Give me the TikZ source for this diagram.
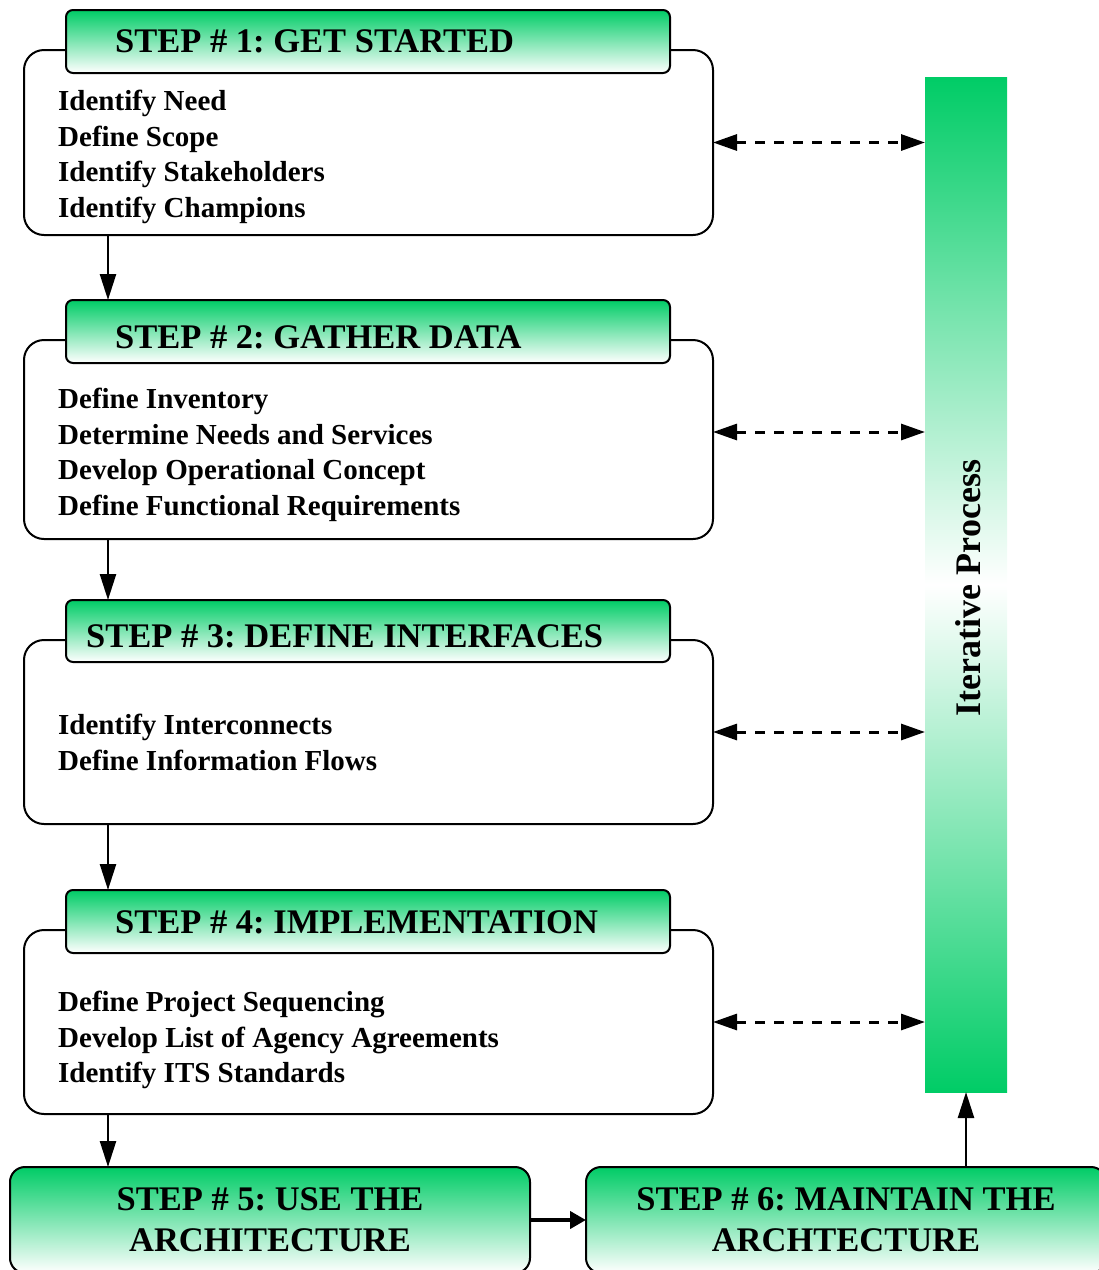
\documentclass[tikz,border=0pt]{standalone}
\usepackage{fontspec}
\setmainfont{Liberation Serif}
\usetikzlibrary{arrows.meta}
\definecolor{grn}{RGB}{0,204,102}
\frenchspacing
\tikzset{
  body/.style={draw, line width=2pt, rounded corners=20pt, fill=white, inner sep=0pt, outer sep=0pt},
  head/.style={draw, line width=2pt, rounded corners=7pt, top color=grn, bottom color=white, inner sep=0pt, outer sep=0pt},
  title/.style={font=\fontsize{34.5}{41}\selectfont\bfseries, inner sep=0pt, anchor=west},
  items/.style={font=\fontsize{29}{35.6}\selectfont\bfseries, align=left, inner sep=0pt, anchor=north west},
  flow/.style={line width=2.5pt, -{Triangle[length=26pt,width=16pt]}},
  link/.style={line width=3pt, dash pattern=on 10pt off 9pt, {Triangle[length=24pt,width=16pt]}-{Triangle[length=24pt,width=16pt]}},
  final/.style={draw, line width=2pt, rounded corners=15pt, top color=grn, bottom color=white, inner sep=0pt, outer sep=0pt, minimum width=520pt, minimum height=106pt, align=center, font=\fontsize{34.5}{41}\selectfont\bfseries},
}
\begin{document}
\begin{tikzpicture}[x=1pt,y=-1pt]
\useasboundingbox (0,0) rectangle (1099,1270);
% iterative bar
\node[inner sep=0pt, outer sep=0pt, minimum width=82pt, minimum height=1015pt, top color=grn, bottom color=grn, middle color=white] (bar) at (966,584.5) {};
\node[rotate=90, font=\fontsize{36}{36}\selectfont\bfseries, inner sep=0pt] (bt) at (968,588) {Iterative Process};
% step 1
\node[body, minimum width=689pt, minimum height=185pt] (b1) at (368.5,142.5) {};
\node[head, minimum width=604pt, minimum height=63pt] (h1) at (368,41.5) {};
\node[title] (t1) at (115,41) {STEP \# 1: GET STARTED};
\node[items] (i1) at (58,90) {Identify Need\\Define Scope\\Identify Stakeholders\\Identify Champions};
% step 2
\node[body, minimum width=689pt, minimum height=199pt] (b2) at (368.5,439.5) {};
\node[head, minimum width=604pt, minimum height=63pt] (h2) at (368,331.5) {};
\node[title] (t2) at (115,337) {STEP \# 2: GATHER DATA};
\node[items] (i2) at (58,388) {Define Inventory\\Determine Needs and Services\\Develop Operational Concept\\Define Functional Requirements};
% step 3
\node[body, minimum width=689pt, minimum height=184pt] (b3) at (368.5,732) {};
\node[head, minimum width=604pt, minimum height=62pt] (h3) at (368,631) {};
\node[title] (t3) at (86,636) {STEP \# 3: DEFINE INTERFACES};
\node[items] (i3) at (58,714) {Identify Interconnects\\Define Information Flows};
% step 4
\node[body, minimum width=689pt, minimum height=184pt] (b4) at (368.5,1022) {};
\node[head, minimum width=604pt, minimum height=63pt] (h4) at (368,921.5) {};
\node[title] (t4) at (115,922) {STEP \# 4: IMPLEMENTATION};
\node[items] (i4) at (58,991) {Define Project Sequencing\\Develop List of Agency Agreements\\Identify ITS Standards};
% steps 5 and 6
\node[final] (b5) at (270,1220) {STEP \# 5: USE THE\\ARCHITECTURE};
\node[final] (b6) at (846,1220) {STEP \# 6: MAINTAIN THE\\ARCHTECTURE};
% connectors
\coordinate (ax) at (108,0);
\draw[flow] (b1.south -| ax) -- (h2.north -| ax);
\draw[flow] (b2.south -| ax) -- (h3.north -| ax);
\draw[flow] (b3.south -| ax) -- (h4.north -| ax);
\draw[flow] (b4.south -| ax) -- (b5.north -| ax);
\draw[link] (b1.east) -- (b1.east -| bar.west);
\draw[link] ([yshift=7.5pt]b2.east) -- ([yshift=7.5pt]b2.east -| bar.west);
\draw[link] (b3.east) -- (b3.east -| bar.west);
\draw[link] (b4.east) -- (b4.east -| bar.west);
\draw[line width=4pt, -{Triangle[length=16pt,width=17pt]}] (b5.east) -- (b6.west);
\draw[flow] (b6.north -| bar.south) -- (bar.south);
\end{tikzpicture}
\end{document}
